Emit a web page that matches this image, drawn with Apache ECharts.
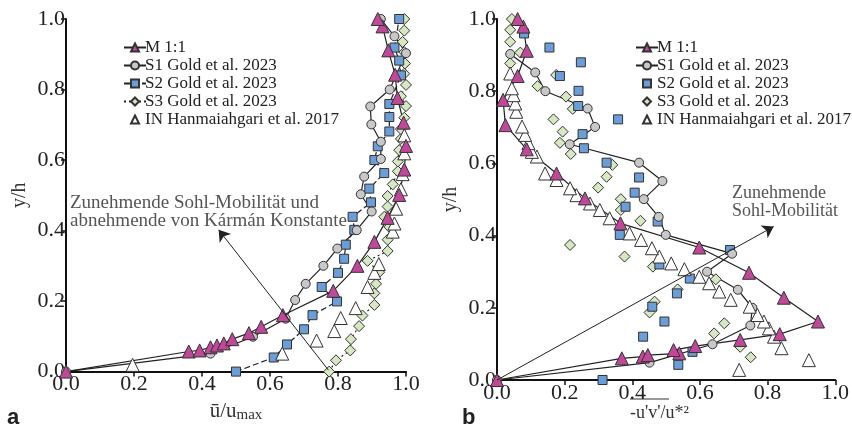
<!DOCTYPE html>
<html><head><meta charset="utf-8">
<script src="https://cdn.jsdelivr.net/npm/echarts@6/dist/echarts.min.js"></script>
<style>html,body{margin:0;padding:0;background:#fff}#c{width:852px;height:428px}</style>
</head><body><div id="c"></div>
<script>
const tickLabels = ['0.0','0.2','0.4','0.6','0.8','1.0'];
const names = ['M 1:1','S1 Gold et al. 2023','S2 Gold et al. 2023','S3 Gold et al. 2023','IN Hanmaiahgari et al. 2017'];

// Panel a: u/umax vs y/h
const aM = [[0,0],[0.361,0.057],[0.393,0.060],[0.425,0.069],[0.444,0.074],[0.464,0.080],[0.489,0.092],[0.538,0.109],[0.574,0.127],[0.638,0.160],[0.786,0.229],[0.857,0.300],[0.907,0.368],[0.946,0.436],[0.980,0.501],[0.995,0.573],[1.0,0.640],[0.993,0.706],[0.975,0.776],[0.968,0.842],[0.948,0.911],[0.931,0.979],[0.917,1.0]];
const aS1 = [[0,0],[0.425,0.051],[0.550,0.099],[0.646,0.150],[0.674,0.203],[0.705,0.249],[0.757,0.300],[0.798,0.349],[0.855,0.401],[0.899,0.454],[0.867,0.503],[0.877,0.553],[0.926,0.603],[0.926,0.652],[0.898,0.701],[0.895,0.752],[0.952,0.800],[1.0,0.903],[0.966,0.951],[0.926,1.0]];
const aS2 = [[0.5,0],[0.611,0.040],[0.650,0.077],[0.700,0.120],[0.725,0.160],[0.797,0.199],[0.752,0.240],[0.800,0.280],[0.818,0.320],[0.823,0.360],[0.848,0.402],[0.843,0.439],[0.897,0.480],[0.892,0.519],[0.936,0.563],[0.907,0.600],[0.917,0.639],[0.951,0.681],[0.951,0.722],[0.951,0.759],[0.985,0.840],[0.980,0.882],[0.966,0.919],[0.980,1.0]];
const aS3 = [[0.774,0],[0.794,0.032],[0.836,0.060],[0.838,0.092],[0.862,0.129],[0.872,0.159],[0.907,0.189],[0.907,0.222],[0.912,0.249],[0.921,0.282],[0.887,0.314],[0.946,0.342],[0.946,0.374],[0.951,0.410],[0.936,0.439],[0.946,0.468],[0.946,0.498],[0.961,0.531],[0.976,0.568],[0.976,0.596],[0.980,0.628],[0.985,0.660],[0.985,0.688],[0.995,0.720],[1.0,0.753],[0.985,0.781],[1.0,0.813],[0.995,0.845],[0.997,0.874],[0.995,0.906],[0.990,0.935],[0.995,0.967],[0.995,1.0]];
const aIN = [[0.196,0.019],[0.636,0.051],[0.737,0.088],[0.789,0.115],[0.808,0.152],[0.852,0.180],[0.887,0.240],[0.907,0.280],[0.920,0.305],[0.961,0.397],[0.966,0.420],[0.971,0.462],[0.985,0.517],[0.990,0.560],[0.995,0.619],[0.995,0.670]];

// Panel b: -u'v'/u*^2 vs y/h
const bM = [[0,0],[0.369,0.060],[0.431,0.065],[0.446,0.069],[0.539,0.074],[0.522,0.083],[0.586,0.094],[0.719,0.111],[0.836,0.127],[0.949,0.162],[0.848,0.228],[0.745,0.297],[0.598,0.367],[0.365,0.434],[0.260,0.503],[0.176,0.572],[0.088,0.639],[0.025,0.706],[0.018,0.776],[0.061,0.842],[0.088,0.912],[0.078,0.979],[0.061,1.0]];
const bS1 = [[0,0],[0.451,0.048],[0.637,0.099],[0.749,0.151],[0.755,0.200],[0.712,0.250],[0.621,0.300],[0.695,0.350],[0.499,0.402],[0.478,0.452],[0.434,0.501],[0.489,0.551],[0.420,0.602],[0.215,0.653],[0.290,0.701],[0.268,0.752],[0.143,0.800],[0.113,0.852],[0.039,0.903]];
const bS2 = [[0.312,0.0],[0.536,0.042],[0.578,0.078],[0.432,0.120],[0.495,0.162],[0.459,0.203],[0.532,0.240],[0.570,0.281],[0.480,0.320],[0.689,0.360],[0.363,0.402],[0.475,0.439],[0.380,0.480],[0.407,0.519],[0.420,0.561],[0.324,0.602],[0.257,0.642],[0.253,0.681],[0.358,0.722],[0.240,0.759],[0.241,0.801],[0.186,0.842],[0.248,0.880],[0.155,0.921],[0.080,0.960]];
const bS3 = [[0.750,0.063],[0.719,0.092],[0.642,0.129],[0.672,0.157],[0.451,0.187],[0.466,0.217],[0.534,0.251],[0.647,0.279],[0.461,0.314],[0.377,0.342],[0.216,0.374],[0.424,0.441],[0.366,0.471],[0.366,0.501],[0.299,0.533],[0.324,0.563],[0.341,0.596],[0.218,0.626],[0.186,0.657],[0.194,0.688],[0.167,0.722],[0.224,0.751],[0.204,0.785],[0.120,0.814],[0.175,0.845],[0.039,0.877],[0.069,0.907],[0.039,0.937],[0.039,0.970],[0.044,1.0]];
const bIN = [[0.716,0.028],[0.922,0.055],[0.841,0.088],[0.819,0.120],[0.804,0.143],[0.789,0.162],[0.770,0.180],[0.747,0.203],[0.691,0.222],[0.657,0.245],[0.627,0.268],[0.598,0.286],[0.554,0.307],[0.515,0.323],[0.480,0.342],[0.458,0.365],[0.426,0.388],[0.392,0.406],[0.333,0.448],[0.304,0.471],[0.275,0.489],[0.235,0.512],[0.216,0.531],[0.176,0.554],[0.142,0.572],[0.118,0.619],[0.103,0.632],[0.093,0.656],[0.083,0.679],[0.074,0.702],[0.057,0.743],[0.054,0.766],[0.049,0.789],[0.044,0.808],[0.039,0.849]];

const SERIF = '"Liberation Serif", "DejaVu Serif", serif';
const C = {M:'#c0479a', S1:'#c8c8c8', S2:'#6b9dd8', S3:'#d6e8c2', IN:'#ffffff'};
const edge = '#333';

function axisX(gi){
  return {gridIndex:gi, type:'value', min:0, max:1, interval:0.2,
    axisLine:{show:true,onZero:false,lineStyle:{color:'#111',width:2}},
    axisTick:{show:true,length:5,lineStyle:{color:'#111',width:1.5}},
    splitLine:{show:false},
    axisLabel:{margin:2,fontFamily:SERIF,fontSize:22,color:'#222',formatter:v=>tickLabels[Math.round(v*5)]}};
}
function axisY(gi){
  return {gridIndex:gi, type:'value', min:0, max:1, interval:0.2,
    name:'y/h', nameLocation:'middle', nameGap:36,
    nameTextStyle:{fontFamily:SERIF,fontSize:20,color:'#333'},
    axisLine:{show:true,onZero:false,lineStyle:{color:'#111',width:2}},
    axisTick:{show:true,length:5,lineStyle:{color:'#111',width:1.5}},
    splitLine:{show:false},
    axisLabel:{margin:1,fontFamily:SERIF,fontSize:22,color:'#222',formatter:v=>tickLabels[Math.round(v*5)]}};
}
function lineS(name,gi,data,sym,size,color,ltype,noLine){
  return {name, type:'line', xAxisIndex:gi, yAxisIndex:gi, data, symbol:sym, symbolSize:size,
    showAllSymbol:true, animation:false,
    lineStyle:{color:'#222',width:1.2,type:ltype||'solid',opacity:noLine?0:1},
    itemStyle:{color:color,borderColor:edge,borderWidth:1}};
}
const P = 'b:';
const arrowA = [[{coord:[0.772,0.004],symbol:'none'},{coord:[0.449,0.402],symbol:'arrow',symbolSize:11}]];
const arrowB = [[{coord:[0,0],symbol:'none'},{coord:[0.818,0.425],symbol:'arrow',symbolSize:11}]];
function ml(d){return {silent:true,symbol:['none','arrow'],symbolSize:11,label:{show:false},
  itemStyle:{color:'#222'},
  lineStyle:{color:'#222',width:1,type:'solid',opacity:1},emphasis:{disabled:true},data:d,animation:false};}

const sM_a = lineS(names[0],0,aM,'triangle',13,C.M); sM_a.markLine = ml(arrowA);
const sM_b = lineS(P+names[0],1,bM,'triangle',13,C.M); sM_b.markLine = ml(arrowB);

const series = [
  lineS(names[3],0,aS3,'diamond',11,C.S3,[2,3]),
  lineS(names[2],0,aS2,'rect',9,C.S2,[6,3]),
  lineS(names[1],0,aS1,'circle',9,C.S1),
  lineS(names[4],0,aIN,'triangle',13,C.IN,'solid',true),
  sM_a,
  lineS(P+names[3],1,bS3,'diamond',11,C.S3,'solid',true),
  lineS(P+names[2],1,bS2,'rect',9,C.S2,'solid',true),
  lineS(P+names[1],1,bS1,'circle',9,C.S1),
  lineS(P+names[4],1,bIN,'triangle',13,C.IN,'solid',true),
  sM_b
];

function legend(left,prefix){
  return {left:left, top:34, orient:'vertical', itemWidth:22, itemHeight:10, itemGap:1, selectedMode:false,
    textStyle:{fontFamily:SERIF,fontSize:17,color:'#222',padding:[0,0,0,-6]},
    formatter:n=>n.replace(P,''),
    data:names.map(n=>prefix+n)};
}

const chart = echarts.init(document.getElementById('c'),null,{renderer:'canvas'});
chart.setOption({
  backgroundColor:'#fff',
  grid:[{left:66,top:19,width:340,height:361},{left:497,top:19,width:340,height:361}],
  xAxis:[Object.assign(axisX(0),{name:'{a|ū/u}{b|max}',nameLocation:'middle',nameGap:21,
          nameTextStyle:{rich:{a:{fontFamily:SERIF,fontSize:21,color:'#333'},b:{fontFamily:SERIF,fontSize:15,color:'#333',padding:[9,0,0,0]}}}}),
         axisX(1)],
  yAxis:[axisY(0),axisY(1)],
  legend:[legend(118,''),legend(630,P)],
  series:series,
  graphic:[
    {type:'text',left:70,top:194,style:{text:'Zunehmende Sohl-Mobilität und\nabnehmende von Kármán Konstante',font:'19px '+SERIF,fill:'#555',lineHeight:18}},
    {type:'text',left:732,top:184,style:{text:'Zunehmende\nSohl-Mobilität',font:'18px '+SERIF,fill:'#555',lineHeight:18}},
    {type:'text',left:630,top:404,style:{text:"-u'v'/u*²",font:'18px '+SERIF,fill:'#333'}},
    {type:'line',shape:{x1:630,y1:399,x2:669,y2:399},style:{stroke:'#333',lineWidth:1.2}},
    {type:'text',left:7,top:407,style:{text:'a',font:'bold 22px "Liberation Sans", Arial, sans-serif',fill:'#222'}},
    {type:'text',left:462,top:407,style:{text:'b',font:'bold 22px "Liberation Sans", Arial, sans-serif',fill:'#222'}}
  ]
});
</script></body></html>
